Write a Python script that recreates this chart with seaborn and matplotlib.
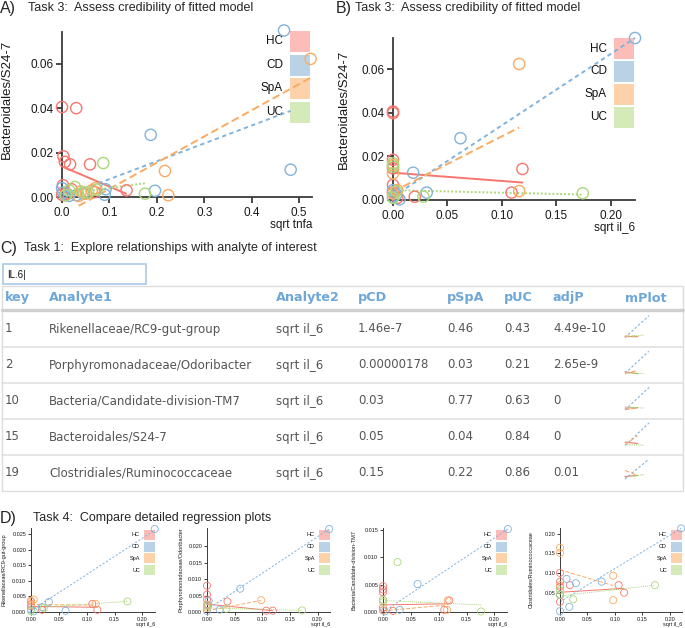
import seaborn as sns
import matplotlib.pyplot as plt
from matplotlib.patches import Rectangle

W, H = 685, 628

groups = ["HC", "CD", "SpA", "UC"]
point_colors = {"HC": "#f7776e", "CD": "#82b3dc", "SpA": "#fbaa62", "UC": "#acd77a"}
legend_colors = {"HC": "#fcbdb9", "CD": "#bad2e6", "SpA": "#fdd2ab", "UC": "#d4eab8"}
line_styles = {"HC": "-", "CD": (0, (2.2, 1.8)), "SpA": (0, (4, 2)), "UC": (0, (1, 1))}

# ---- panel A: Bacteroidales/S24-7 vs sqrt tnfa ----
a_x = {
    "HC": [0.000, 0.030, 0.003, 0.006, 0.017, 0.059, 0.002, 0.020, 0.006, 0.136, 0.069, 0.010, 0.000],
    "CD": [0.468, 0.187, 0.482, 0.196, 0.090, 0.092, 0.002, 0.000, 0.015, 0.030, 0.045],
    "SpA": [0.524, 0.217, 0.224, 0.063, 0.070, 0.035, 0.040, 0.050],
    "UC": [0.087, 0.175, 0.027, 0.045, 0.073, 0.008, 0.055, 0.015],
}
a_y = {
    "HC": [0.0405, 0.0400, 0.0183, 0.0158, 0.0147, 0.0147, 0.0053, 0.0035, 0.0008, 0.0030, 0.0022, 0.0015, 0.0010],
    "CD": [0.0750, 0.0280, 0.0123, 0.0028, 0.0010, 0.0035, 0.0020, 0.0040, 0.0005, 0.0008, 0.0015],
    "SpA": [0.0622, 0.0117, 0.0008, 0.0030, 0.0040, 0.0005, 0.0025, 0.0015],
    "UC": [0.0153, 0.0015, 0.0045, 0.0022, 0.0033, 0.0008, 0.0020, 0.0030],
}
# fitted lines: x start, x end, y start, y end
a_fit = {
    "HC": (0.003, 0.135, 0.0135, 0.0015),
    "CD": (0.000, 0.482, 0.0000, 0.0388),
    "SpA": (0.035, 0.524, -0.0040, 0.0537),
    "UC": (0.008, 0.178, 0.0015, 0.0063),
}

# ---- panel B: Bacteroidales/S24-7 vs sqrt il_6 ----
b_x = {
    "HC": [0, 0, 0, 0, 0, 0, 0.020, 0.109, 0.119, 0.004],
    "CD": [0.2225, 0.062, 0.0185, 0.031, 0.006, 0.0, 0.003, 0.0],
    "SpA": [0.116, 0.116, 0.0, 0.0, 0.0, 0.004],
    "UC": [0.0, 0.0, 0.028, 0.1745, 0.003, 0.0],
}
b_y = {
    "HC": [0.0405, 0.0398, 0.0184, 0.0145, 0.0069, 0.0035, 0.0015, 0.0034, 0.0142, 0.0010],
    "CD": [0.0742, 0.0283, 0.0125, 0.0034, 0.0003, 0.0015, 0.0025, 0.0045],
    "SpA": [0.0623, 0.0041, 0.0160, 0.0122, 0.0030, 0.0045],
    "UC": [0.0168, 0.0153, 0.0015, 0.0031, 0.0040, 0.0010],
}
b_fit = {
    "HC": (0.0, 0.119, 0.0125, 0.0080),
    "CD": (0.0, 0.2225, 0.0015, 0.0742),
    "SpA": (0.0, 0.116, 0.0038, 0.0332),
    "UC": (0.0, 0.1745, 0.0045, 0.0025),
}

# ---- panel D1: Rikenellaceae/RC9-gut-group ----
d1_x = {"HC": [0, 0, 0, 0.020, 0.110, 0.119], "CD": [0.222, 0.032, 0.020, 0.062, 0.005, 0.0],
        "SpA": [0.116, 0.0, 0.005, 0.0], "UC": [0.173, 0.023, 0.0]}
d1_y = {"HC": [0.0034, 0.0026, 0.0018, 0.0007, 0.0026, 0.0007],
        "CD": [0.0266, 0.0032, 0.0015, 0.0004, 0.0002, 0.0008],
        "SpA": [0.0026, 0.0036, 0.0040, 0.0023], "UC": [0.0034, 0.0013, 0.0003]}
d1_fit = {"HC": (0, 0.119, 0.0018, 0.0015), "CD": (0, 0.222, 0.0004, 0.0262),
          "SpA": (0, 0.116, 0.0024, 0.0022), "UC": (0, 0.173, 0.0013, 0.0034)}

# ---- panel D2: Porphyromonadaceae/Odoribacter ----
d2_x = {"HC": [0, 0, 0, 0.037, 0.107, 0.119, 0], "CD": [0.221, 0.060, 0.003, 0.002, 0.023, 0.0],
        "SpA": [0.098, 0.0, 0.0], "UC": [0.172, 0.035, 0.0]}
d2_y = {"HC": [0.0080, 0.0053, 0.0038, 0.0032, 0.0004, 0.0004, 0.0022],
        "CD": [0.0253, 0.0071, 0.0034, 0.0022, 0.0007, 0.0003],
        "SpA": [0.0036, 0.0022, 0.0012], "UC": [0.0005, 0.0010, 0.0017]}
d2_fit = {"HC": (0, 0.119, 0.0024, 0.0004), "CD": (0, 0.221, 0.0007, 0.0253),
          "SpA": (0, 0.098, 0.0004, 0.0035), "UC": (0, 0.172, 0.0012, 0.0005)}

# ---- panel D3: Bacteria/Candidate-division-TM7 ----
d3_x = {"HC": [0, 0, 0, 0.110, 0.119, 0.018, 0], "CD": [0.224, 0.062, 0.030, 0.003, 0.0],
        "SpA": [0.116, 0.115, 0.0, 0.0], "UC": [0.026, 0.176, 0.0, 0.0]}
d3_y = {"HC": [0.0047, 0.0041, 0.0036, 0.0004, 0.0021, 0.0002, 0.0008],
        "CD": [0.0151, 0.0051, 0.0004, 0.0001, 0.0003],
        "SpA": [0.0021, 0.0004, 0.0022, 0.0003], "UC": [0.0091, 0.0001, 0.0022, 0.0018]}
d3_fit = {"HC": (0, 0.119, 0.0013, 0.0015), "CD": (0, 0.224, 0.0, 0.0151),
          "SpA": (0, 0.116, 0.0002, 0.0013), "UC": (0, 0.176, 0.0021, 0.0013)}

# ---- panel D4: Clostridiales/Ruminococcaceae ----
d4_x = {"HC": [0, 0, 0, 0, 0, 0.018, 0.107, 0.117], "CD": [0.221, 0.076, 0.012, 0.017, 0.0, 0.029, 0.0],
        "SpA": [0.0, 0.0, 0.097, 0.097, 0.0], "UC": [0.173, 0.024, 0.0, 0.0]}
d4_y = {"HC": [0.100, 0.078, 0.065, 0.044, 0.027, 0.069, 0.069, 0.050],
        "CD": [0.213, 0.078, 0.085, 0.014, 0.003, 0.074, 0.045],
        "SpA": [0.164, 0.151, 0.093, 0.031, 0.069], "UC": [0.069, 0.033, 0.044, 0.056]}
d4_fit = {"HC": (0, 0.117, 0.051, 0.061), "CD": (0, 0.221, 0.027, 0.213),
          "SpA": (0, 0.097, 0.108, 0.068), "UC": (0, 0.173, 0.042, 0.069)}

# ---- table C ----
headers = ["key", "Analyte1", "Analyte2", "pCD", "pSpA", "pUC", "adjP", "mPlot"]
keys = ["1", "2", "10", "15", "19"]
analyte1 = ["Rikenellaceae/RC9-gut-group", "Porphyromonadaceae/Odoribacter",
            "Bacteria/Candidate-division-TM7", "Bacteroidales/S24-7",
            "Clostridiales/Ruminococcaceae"]
analyte2 = ["sqrt il_6"] * 5
p_cd = ["1.46e-7", "0.00000178", "0.03", "0.05", "0.15"]
p_spa = ["0.46", "0.03", "0.77", "0.04", "0.22"]
p_uc = ["0.43", "0.21", "0.63", "0.84", "0.86"]
adj_p = ["4.49e-10", "2.65e-9", "0", "0", "0.01"]

sns.set_style("ticks")
plt.rcParams["font.family"] = ["Liberation Sans", "DejaVu Sans"]

fig = plt.figure(figsize=(W / 100, H / 100), dpi=100)
bg = fig.add_axes([0, 0, 1, 1])
bg.set_xlim(0, W)
bg.set_ylim(H, 0)
bg.axis("off")


def px_axes(left, top, right, bottom):
    ax = fig.add_axes([left / W, 1 - bottom / H, (right - left) / W, (bottom - top) / H])
    ax.set_facecolor("none")
    return ax


def draw_legend(right, top, w, h, step, gap, fs):
    for i, g in enumerate(groups):
        y = top + i * step
        bg.add_patch(Rectangle((right - w, y), w, h, color=legend_colors[g], lw=0))
        bg.text(right - w - gap, y + h / 2, g, ha="right", va="center", fontsize=fs, color="#111")


def draw_groups(ax, xs, ys, fits, size, mlw, llw):
    for g in groups:
        x0, x1, y0, y1 = fits[g]
        sns.lineplot(x=[x0, x1], y=[y0, y1], ax=ax, color=point_colors[g],
                     linestyle=line_styles[g], linewidth=llw, clip_on=False, zorder=2)
        sns.scatterplot(x=xs[g], y=ys[g], ax=ax, color=point_colors[g], facecolor="none",
                        edgecolor=point_colors[g], s=size, linewidth=mlw, clip_on=False,
                        zorder=3, legend=False)


def style_axes(ax, xlim, ylim, xticks, yticks, xfmt, yfmt, fs, lw, tlen,
               xlabel, ylabel, ylab_x, ylab_y, ylab_fs):
    ax.set_xlim(xlim)
    ax.set_ylim(ylim)
    ax.set_xticks(xticks)
    ax.set_xticklabels([xfmt.format(t) for t in xticks])
    ax.set_yticks(yticks)
    ax.set_yticklabels([yfmt.format(t) for t in yticks])
    sns.despine(ax=ax)
    for s in ["left", "bottom"]:
        ax.spines[s].set_linewidth(lw)
        ax.spines[s].set_color("#3a3a3a")
    ax.tick_params(labelsize=fs, width=lw, length=tlen, color="#3a3a3a", labelcolor="#1a1a1a")
    ax.tick_params(axis="y", pad=2)
    ax.tick_params(axis="x", pad=3)
    ax.set_xlabel(xlabel, loc="right", fontsize=fs, labelpad=0, color="#1a1a1a")
    ax.set_ylabel(ylabel, fontsize=ylab_fs, color="#1a1a1a")
    ax.yaxis.set_label_coords(ylab_x, ylab_y)


# ---- titles ----
bg.text(0, 8, "A)", fontsize=11.5, va="center", ha="left")
bg.text(28, 8, "Task 3:  Assess credibility of fitted model", fontsize=9, va="center")
bg.text(336, 8, "B)", fontsize=11.5, va="center", ha="left")
bg.text(355, 8, "Task 3:  Assess credibility of fitted model", fontsize=9, va="center")
bg.text(0, 248, "C)", fontsize=11.5, va="center", ha="left")
bg.text(24, 248, "Task 1:  Explore relationships with analyte of interest", fontsize=9, va="center")
bg.text(0, 518, "D)", fontsize=11.5, va="center", ha="left")
bg.text(33, 518, "Task 4:  Compare detailed regression plots", fontsize=9, va="center")

# ---- panel A ----
draw_legend(310, 31, 20, 21, 23.5, 7, 8.5)
ax_a = px_axes(62, 32, 312, 197)
draw_groups(ax_a, a_x, a_y, a_fit, 65, 1.0, 1.4)
style_axes(ax_a, (0, 0.527), (0, 0.0743), [0, 0.1, 0.2, 0.3, 0.4, 0.5],
           [0, 0.02, 0.04, 0.06], "{:.1f}", "{:.2f}", 8.5, 1.3, 4,
           "sqrt tnfa", "Bacteroidales/S24-7", -0.196, 0.59, 9.5)

# ---- panel B ----
draw_legend(634, 38, 20, 21, 23, 7, 8.5)
ax_b = px_axes(393, 38, 635, 200)
draw_groups(ax_b, b_x, b_y, b_fit, 65, 1.0, 1.4)
style_axes(ax_b, (0, 0.2225), (0, 0.0742), [0, 0.05, 0.10, 0.15, 0.20],
           [0, 0.02, 0.04, 0.06], "{:.2f}", "{:.2f}", 8.5, 1.3, 4,
           "sqrt il_6", "Bacteroidales/S24-7", -0.178, 0.56, 9.5)

# ---- table C ----
bg.add_patch(Rectangle((3, 264), 143, 20, facecolor="white", edgecolor="#a9c9ea", lw=1.2))
bg.text(7, 274.5, "IL.6|", fontsize=7, va="center", color="#111")

col_x = [5, 49, 276, 358, 447, 504, 553, 625]
bg.add_patch(Rectangle((2, 286), 681, 205, facecolor="none", edgecolor="#dcdcdc", lw=1))
for cx, hd in zip(col_x, headers):
    bg.text(cx, 298, hd, fontsize=9.2, fontweight="bold", color="#6fa7d7",
            family="DejaVu Sans", va="center")
bg.plot([2, 683], [309.5, 309.5], color="#cfcfcf", lw=2.4)
row_y = [329 + 36 * i for i in range(5)]
for i, yc in enumerate(row_y):
    cells = [keys[i], analyte1[i], analyte2[i], p_cd[i], p_spa[i], p_uc[i], adj_p[i]]
    for cx, txt in zip(col_x, cells):
        bg.text(cx, yc, txt, fontsize=8.5, color="#555555", family="DejaVu Sans", va="center")
    if i < 4:
        bg.plot([2, 683], [yc + 18, yc + 18], color="#e0e0e0", lw=1.2)

# mini regression lines in the mPlot column
spark_fits = [(d1_fit, 0.2225, 0.0269), (d2_fit, 0.2225, 0.0256), (d3_fit, 0.2225, 0.0153),
              (b_fit, 0.2225, 0.0742), (d4_fit, 0.2225, 0.214)]
for yc, (fits, xm, ym) in zip(row_y, spark_fits):
    sp = px_axes(625, yc - 14, 649, yc + 9)
    for g in groups:
        x0, x1, y0, y1 = fits[g]
        sns.lineplot(x=[x0, x1], y=[y0, y1], ax=sp, color=point_colors[g],
                     linestyle=line_styles[g], linewidth=0.8, clip_on=False)
    sp.set_xlim(0, xm)
    sp.set_ylim(0, ym)
    sp.axis("off")

# ---- panel D ----
d_specs = [
    (31, 155, d1_x, d1_y, d1_fit, 0.0269, [0, 0.005, 0.010, 0.015, 0.020, 0.025], "{:.3f}",
     "Rikenellaceae/RC9-gut-group", -0.194),
    (207, 330, d2_x, d2_y, d2_fit, 0.0256, [0, 0.005, 0.010, 0.015, 0.020], "{:.3f}",
     "Porphyromonadaceae/Odoribacter", -0.195),
    (383, 507, d3_x, d3_y, d3_fit, 0.0153, [0, 0.005, 0.010, 0.015], "{:.3f}",
     "Bacteria/Candidate-division-TM7", -0.21),
    (560, 682, d4_x, d4_y, d4_fit, 0.214, [0.05, 0.10, 0.15, 0.20], "{:.2f}",
     "Clostridiales/Ruminococcaceae", -0.213),
]
for left, right, xs, ys, fits, ymax, yt, yfmt, ylab, ylx in d_specs:
    draw_legend(right, 530, 11, 10, 11.7, 4, 4)
    ax = px_axes(left, 528, right, 612)
    draw_groups(ax, xs, ys, fits, 26, 0.6, 0.7)
    ymin = 0.001 if ymax > 0.1 else 0
    style_axes(ax, (0, 0.2225), (ymin, ymax), [0, 0.05, 0.10, 0.15, 0.20], yt,
               "{:.2f}", yfmt, 4, 0.7, 2, "sqrt il_6", ylab, ylx, 0.5, 4)
    ax.tick_params(axis="x", pad=1.5)
    ax.tick_params(axis="y", pad=1.5)

fig.savefig("out.png", dpi=100)
